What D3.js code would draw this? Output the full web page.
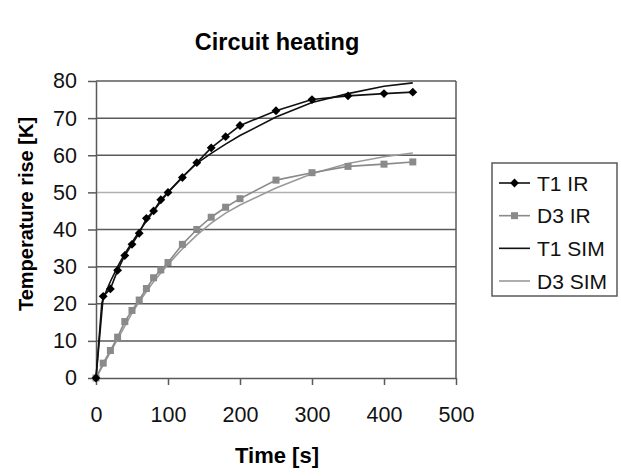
<!DOCTYPE html>
<html>
<head>
<meta charset="utf-8">
<script src="https://cdn.jsdelivr.net/npm/d3@7"></script>
<style>
  body { margin: 0; background: #fff; }
  svg { font-family: "Liberation Sans", Arial, sans-serif; }
  .tick text { font-size: 21.5px; fill: #111; }
</style>
</head>
<body>
<div class="container"></div>
<script>
// measured times (s)
const irTime = [0, 10, 20, 30, 40, 50, 60, 70, 80, 90, 100, 120, 140, 160, 180, 200, 250, 300, 350, 400, 440];
const t1IR = [0, 22, 24, 29, 33, 36, 39, 43, 45, 48, 50, 54, 58, 62, 65, 68, 72, 75, 76, 76.6, 77];
const d3IR = [0, 4, 7.4, 11, 15.2, 18.2, 21, 24.1, 27, 29.1, 31.1, 36, 40, 43.3, 46, 48.3, 53.3, 55.3, 57, 57.6, 58.2];

// simulation
const simTime = [0, 8, 10, 20, 30, 40, 50, 60, 80, 100, 120, 140, 160, 180, 200, 250, 300, 350, 400, 440];
const t1SIM = [0, 20, 21.5, 26, 30, 33.5, 36.5, 39.5, 45, 50, 54.2, 57.8, 60.5, 63, 65.3, 70.3, 74.2, 76.6, 78.6, 79.5];
const d3SIM = [0, 2.8, 3.5, 7, 10.5, 14, 17.5, 20.5, 26, 30.6, 34.8, 38.5, 41.7, 44.4, 46.6, 51.2, 55, 57.8, 59.6, 60.6];

const xTicks = [0, 100, 200, 300, 400, 500];
const yTicks = [0, 10, 20, 30, 40, 50, 60, 70, 80];
const seriesNames = ["T1 IR", "D3 IR", "T1 SIM", "D3 SIM"];

const W = 621, H = 476;
const margin = {top: 81, right: 165, bottom: 98, left: 96};
const width = W - margin.left - margin.right;
const height = H - margin.top - margin.bottom;

const svg = d3.select(".container")
  .append("svg")
    .attr("width", W)
    .attr("height", H);

const g = svg.append("g")
  .attr("transform", "translate(" + margin.left + "," + margin.top + ")");

const x = d3.scaleLinear().domain([0, 500]).range([0, width]);
const y = d3.scaleLinear().domain([0, 80]).range([height, 0]);

// gridlines
g.selectAll(".grid")
  .data(yTicks.filter(d => d > 0))
  .enter()
  .append("line")
    .attr("x1", 0)
    .attr("x2", width)
    .attr("y1", d => y(d))
    .attr("y2", d => y(d))
    .attr("stroke", d => d === 50 ? "#b0b0b0" : "#5a5a5a")
    .attr("stroke-width", 1.5);

// right border
g.append("line")
  .attr("x1", width).attr("x2", width)
  .attr("y1", 0).attr("y2", height)
  .attr("stroke", "#5a5a5a")
  .attr("stroke-width", 1.5);

// axes
const xAxis = g.append("g")
  .attr("transform", "translate(0," + height + ")")
  .call(d3.axisBottom(x).tickValues(xTicks).tickSizeInner(7).tickSizeOuter(0).tickPadding(22));

const yAxis = g.append("g")
  .call(d3.axisLeft(y).tickValues(yTicks).tickSizeInner(8).tickSizeOuter(0).tickPadding(11));

[xAxis, yAxis].forEach(a => {
  a.select(".domain").attr("stroke", "#5a5a5a").attr("stroke-width", 1.5);
  a.selectAll(".tick line").attr("stroke", "#5a5a5a").attr("stroke-width", 1.5);
});

// lines
const line = d3.line()
  .x(d => x(d[0]))
  .y(d => y(d[1]));

const zip = (ts, vs) => ts.map((t, i) => [t, vs[i]]);

g.append("path")
  .datum(zip(simTime, d3SIM))
  .attr("fill", "none")
  .attr("stroke", "#9a9a9a")
  .attr("stroke-width", 1.6)
  .attr("d", line);

g.append("path")
  .datum(zip(irTime, d3IR))
  .attr("fill", "none")
  .attr("stroke", "#8a8a8a")
  .attr("stroke-width", 1.6)
  .attr("d", line);

g.append("path")
  .datum(zip(simTime, t1SIM))
  .attr("fill", "none")
  .attr("stroke", "#111")
  .attr("stroke-width", 1.6)
  .attr("d", line);

g.append("path")
  .datum(zip(irTime, t1IR))
  .attr("fill", "none")
  .attr("stroke", "#111")
  .attr("stroke-width", 1.6)
  .attr("d", line);

// markers
const sq = 7;
g.selectAll(".sq")
  .data(zip(irTime, d3IR))
  .enter()
  .append("rect")
    .attr("x", d => x(d[0]) - sq / 2)
    .attr("y", d => y(d[1]) - sq / 2)
    .attr("width", sq)
    .attr("height", sq)
    .attr("fill", "#8a8a8a");

const diamond = d3.symbol().type(d3.symbolDiamond2).size(50);
g.selectAll(".dm")
  .data(zip(irTime, t1IR))
  .enter()
  .append("path")
    .attr("transform", d => "translate(" + x(d[0]) + "," + y(d[1]) + ")")
    .attr("d", diamond)
    .attr("fill", "#000");

// titles
svg.append("text")
  .attr("x", 277).attr("y", 50)
  .attr("text-anchor", "middle")
  .attr("font-size", 23.5)
  .attr("font-weight", "bold")
  .text("Circuit heating");

svg.append("text")
  .attr("x", 277).attr("y", 463)
  .attr("text-anchor", "middle")
  .attr("font-size", 22)
  .attr("font-weight", "bold")
  .text("Time [s]");

svg.append("text")
  .attr("transform", "translate(33,214) rotate(-90)")
  .attr("text-anchor", "middle")
  .attr("font-size", 20)
  .attr("font-weight", "bold")
  .text("Temperature rise [K]");

// legend
const legend = svg.append("g")
  .attr("transform", "translate(492,163)");

legend.append("rect")
  .attr("width", 125)
  .attr("height", 133)
  .attr("fill", "#fff")
  .attr("stroke", "#5a5a5a")
  .attr("stroke-width", 1.5);

const legColor = ["#111", "#8a8a8a", "#111", "#9a9a9a"];
const legY = d3.scalePoint().domain(seriesNames).range([20, 118]);

const items = legend.selectAll(".item")
  .data(seriesNames)
  .enter()
  .append("g")
    .attr("transform", d => "translate(0," + legY(d) + ")");

items.append("line")
  .attr("x1", 7).attr("x2", 38)
  .attr("stroke", (d, i) => legColor[i])
  .attr("stroke-width", 1.6);

items.filter((d, i) => i === 0)
  .append("path")
  .attr("transform", "translate(22.5,0)")
  .attr("d", diamond)
  .attr("fill", "#000");

items.filter((d, i) => i === 1)
  .append("rect")
  .attr("x", 22.5 - sq / 2).attr("y", -sq / 2)
  .attr("width", sq).attr("height", sq)
  .attr("fill", "#8a8a8a");

items.append("text")
  .attr("x", 45)
  .attr("y", 7.5)
  .attr("font-size", 21)
  .attr("fill", "#111")
  .text(d => d);
</script>
</body>
</html>
